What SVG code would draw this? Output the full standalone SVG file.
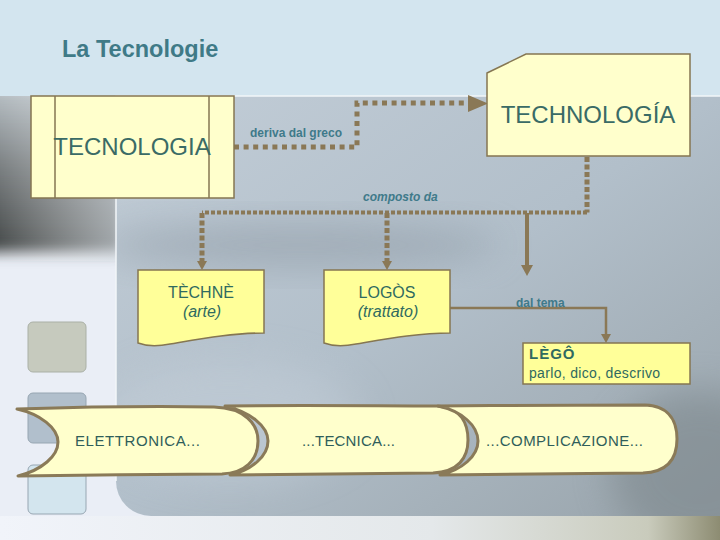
<svg xmlns="http://www.w3.org/2000/svg" width="720" height="540" viewBox="0 0 720 540">
<style>
.box{fill:#ffffcc;stroke:#857652;stroke-width:1.5}
.ybox{fill:#ffff99;stroke:#857652;stroke-width:1.5}
.ban{fill:#ffffcc;stroke:#8a7a58;stroke-width:3;stroke-linejoin:round}
.big{font-family:"Liberation Sans",Arial,sans-serif;font-size:24px;fill:#3a6b66}
.lbl{font-family:"Liberation Sans",Arial,sans-serif;font-size:12px;font-weight:bold;fill:#3f7a8a}
.node{font-family:"Liberation Sans",Arial,sans-serif;font-size:16px;fill:#2f6a60}
.bt{font-family:"Liberation Sans",Arial,sans-serif;font-size:15px;fill:#2f5e5a}
.dot{fill:none;stroke:#8a7856;stroke-width:5;stroke-dasharray:5 4.6}
.dv{fill:none;stroke:#8a7856;stroke-width:5;stroke-dasharray:5 2.5}
.dh{fill:none;stroke:#8a7856;stroke-width:4;stroke-dasharray:4 2}
.sol{fill:none;stroke:#8a7856}
.ah{fill:#8a7856}
</style>
<defs>
<linearGradient id="gPanel" x1="0" y1="0" x2="1" y2="1">
<stop offset="0" stop-color="#c2cdd7"/>
<stop offset="0.5" stop-color="#b2bfca"/>
<stop offset="1" stop-color="#98a3aa"/>
</linearGradient>
<linearGradient id="gLeft" x1="0" y1="0" x2="0" y2="1">
<stop offset="0" stop-color="#b9c1c6"/>
<stop offset="0.45" stop-color="#7b8082"/>
<stop offset="0.9" stop-color="#4a4e4e"/>
<stop offset="1" stop-color="#4a4e4e" stop-opacity="0"/>
</linearGradient>
<linearGradient id="gLeftH" x1="0" y1="0" x2="1" y2="0">
<stop offset="0" stop-color="#ffffff" stop-opacity="0"/>
<stop offset="1" stop-color="#dfe6ec" stop-opacity="0.6"/>
</linearGradient>
<linearGradient id="gBottom" x1="0" y1="0" x2="1" y2="0">
<stop offset="0" stop-color="#f1f4fa"/>
<stop offset="0.6" stop-color="#e4e8ea"/>
<stop offset="0.9" stop-color="#c9cbbc"/>
<stop offset="1" stop-color="#8d8c72"/>
</linearGradient>
<filter id="blur" x="-50%" y="-50%" width="200%" height="200%"><feGaussianBlur stdDeviation="18"/></filter>
<filter id="blur2" x="-20%" y="-20%" width="140%" height="140%"><feGaussianBlur stdDeviation="4"/></filter>
<clipPath id="cp"><path d="M116,96 H720 V516 H151 A35,35 0 0 1 116,481 Z"/></clipPath>
<clipPath id="cl"><rect x="0" y="96" width="120" height="200"/></clipPath>
</defs>

<g id="background">
<rect x="0" y="0" width="720" height="540" fill="#eaeef6"/>
<rect x="0" y="0" width="720" height="96" fill="#d3e5ef"/>
<g clip-path="url(#cl)">
<rect x="-10" y="90" width="130" height="171" fill="url(#gLeft)" filter="url(#blur2)"/>
<rect x="0" y="96" width="120" height="165" fill="url(#gLeftH)"/>
</g>
<rect x="0" y="516" width="720" height="24" fill="url(#gBottom)"/>
<path d="M116,96 H720 V516 H151 A35,35 0 0 1 116,481 Z" fill="url(#gPanel)"/>
<g clip-path="url(#cp)">
<ellipse cx="300" cy="245" rx="200" ry="22" fill="#8e9aa4" opacity="0.55" filter="url(#blur)"/>
<ellipse cx="700" cy="470" rx="90" ry="80" fill="#7d878c" opacity="0.6" filter="url(#blur)"/>
<ellipse cx="230" cy="420" rx="130" ry="60" fill="#c4cfd9" opacity="0.5" filter="url(#blur)"/>
</g>
<path d="M116,481 V96 H720" fill="none" stroke="#f2f6f9" stroke-width="1.5"/>
<rect x="28" y="322" width="58" height="50" rx="5" fill="#c6cabe" stroke="#aab0a6" stroke-width="1"/>
<rect x="28" y="393" width="58" height="50" rx="5" fill="#b1bfcc" stroke="#97a6b2" stroke-width="1"/>
<rect x="28" y="465" width="58" height="49" rx="5" fill="#d3e5ee" stroke="#97a6b2" stroke-width="1"/>
<text x="62" y="57" font-family="'Liberation Sans',Arial,sans-serif" font-size="23.5" font-weight="bold" fill="#3f7a87">La Tecnologie</text>
</g>

<g id="connectors">
<path class="dot" d="M234,147 H357 V103 H469"/>
<polygon class="ah" points="468,95 488,103.5 468,112"/>
<path class="dv" d="M587,157 V212.5"/>
<path class="dh" d="M587,212.5 H202"/>
<path class="dv" d="M202,213 V262"/>
<polygon class="ah" points="197,261 207,261 202,270"/>
<path class="dv" d="M387,213 V262"/>
<polygon class="ah" points="382,261 392,261 387,270"/>
<path class="sol" stroke-width="4" d="M527,213 V266"/>
<polygon class="ah" points="521,265 533,265 527,276"/>
<path class="sol" stroke-width="2.5" d="M450,308 H606 V336"/>
<polygon class="ah" points="601,334 611,334 606,343"/>
<text class="lbl" x="250" y="137">deriva dal greco</text>
<text class="lbl" x="363" y="201" font-style="italic">composto da</text>
<text class="lbl" x="516" y="307">dal tema</text>
</g>

<g id="n-tecnologia">
<rect class="box" x="31" y="96" width="203" height="102"/>
<line x1="55" y1="96" x2="55" y2="198" stroke="#857652" stroke-width="1.5"/>
<line x1="209" y1="96" x2="209" y2="198" stroke="#857652" stroke-width="1.5"/>
<text class="big" x="132" y="155" text-anchor="middle">TECNOLOGIA</text>
</g>

<g id="n-technologia">
<path class="box" d="M487,73 L526,54 H690 V156 H487 Z"/>
<text class="big" x="588" y="123" text-anchor="middle">TECHNOLOGÍA</text>
</g>

<g id="n-techne">
<path class="ybox" d="M138,270 H264 V333 C232,333 200,339 170,344 C155,347 146,346 138,343 Z"/>
<text class="node" x="201" y="298" text-anchor="middle">TÈCHNÈ</text>
<text class="node" x="202" y="317" text-anchor="middle" font-style="italic">(arte)</text>
</g>

<g id="n-logos">
<path class="ybox" d="M324,270 H450 V333 C418,333 386,339 356,344 C341,347 332,346 324,343 Z"/>
<text class="node" x="387" y="298" text-anchor="middle">LOGÒS</text>
<text class="node" x="388" y="317" text-anchor="middle" font-style="italic">(trattato)</text>
</g>

<g id="n-lego">
<rect class="ybox" x="523" y="343" width="167" height="41"/>
<text x="529" y="359" font-family="'Liberation Sans',Arial,sans-serif" font-size="15" font-weight="bold" fill="#2f6a60" letter-spacing="1">LÈGÔ</text>
<text x="529" y="378" font-family="'Liberation Sans',Arial,sans-serif" font-size="14" fill="#2f6a60" textLength="131">parlo, dico, descrivo</text>
</g>

<g id="n-elettronica">
<path class="ban" d="M17,409 C80,407 160,406 214,407 C245,408 258,424 258,441 C258,460 245,473 222,474 C160,474 80,475 18,476 C42,470 58,456 58,442 C58,428 40,414 17,409 Z"/>
<text class="bt" x="75" y="446" textLength="125">ELETTRONICA...</text>
</g>

<g id="n-tecnica">
<path class="ban" d="M225,406 C300,405 380,406 437,406 C462,407 468,425 468,440 C468,458 458,472 433,473 C360,474 290,474 230,475 C252,470 268,456 268,441 C268,426 250,412 225,406 Z"/>
<text class="bt" x="302" y="446" textLength="93">...TECNICA...</text>
</g>

<g id="n-complicazione">
<path class="ban" d="M438,406 C510,405 590,405 645,405 C672,406 677,425 677,439 C677,458 668,472 643,473 C570,474 500,474 440,475 C462,470 478,456 478,441 C478,426 462,411 438,406 Z"/>
<text class="bt" x="486" y="446" textLength="157">...COMPLICAZIONE...</text>
</g>
</svg>
